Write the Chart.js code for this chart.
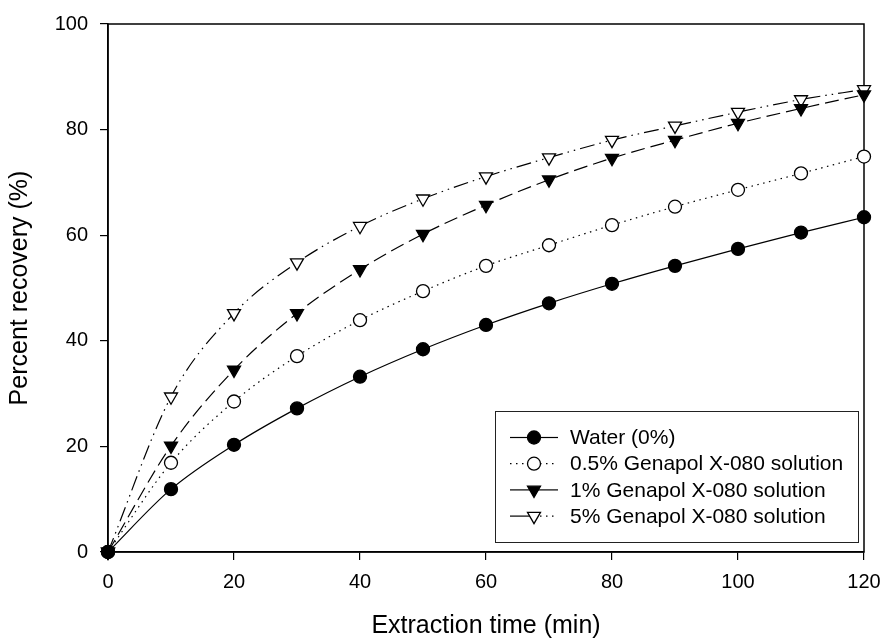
<!DOCTYPE html>
<html>
<head>
<meta charset="utf-8">
<script src="https://cdn.jsdelivr.net/npm/chart.js@4"></script>
<style>
  html, body { margin: 0; padding: 0; background: #fff; }
  #wrap { width: 883px; height: 639px; }
</style>
</head>
<body>
<div id="wrap"><canvas id="myChart" width="883" height="639"></canvas></div>
<script>
// extraction time (min)
const times = [0, 10, 20, 30, 40, 50, 60, 70, 80, 90, 100, 110, 120];
// percent recovery (%)
const water   = [0, 11.9, 20.3, 27.2, 33.2, 38.4, 43.0, 47.1, 50.8, 54.2, 57.4, 60.5, 63.4];
const gen05   = [0, 16.9, 28.5, 37.1, 43.9, 49.4, 54.2, 58.1, 61.9, 65.4, 68.6, 71.7, 74.9];
const gen1    = [0, 20.1, 34.5, 45.2, 53.5, 60.2, 65.7, 70.5, 74.6, 78.0, 81.2, 84.0, 86.6];
const gen5    = [0, 29.4, 45.2, 54.8, 61.7, 66.9, 71.1, 74.7, 78.0, 80.7, 83.3, 85.7, 87.6];
const seriesNames = ['Water (0%)', '0.5% Genapol X-080 solution', '1% Genapol X-080 solution', '5% Genapol X-080 solution'];
const xTicks = [0, 20, 40, 60, 80, 100, 120];
const yTicks = [0, 20, 40, 60, 80, 100];

const FONT = 'Liberation Sans, Arial, sans-serif';

function pts(vals) {
  return times.map((t, i) => ({ x: t, y: vals[i] }));
}

function ds(label, vals, opts) {
  return Object.assign({
    label: label,
    data: pts(vals),
    borderColor: '#000',
    borderWidth: 1.2,
    pointBorderColor: '#000',
    pointBorderWidth: 1.3,
    cubicInterpolationMode: 'monotone',
    clip: false
  }, opts);
}

const datasets = [
  ds(seriesNames[0], water, { pointStyle: 'circle', pointRadius: 6.5, pointBackgroundColor: '#000', borderDash: [] }),
  ds(seriesNames[1], gen05, { pointStyle: 'circle', pointRadius: 6.5, pointBackgroundColor: '#fff', borderDash: [1.5, 4.5] }),
  ds(seriesNames[2], gen1,  { pointStyle: 'triangle', pointRotation: 180, pointRadius: 7.5, pointBackgroundColor: '#000', borderDash: [14, 6] }),
  ds(seriesNames[3], gen5,  { pointStyle: 'triangle', pointRotation: 180, pointRadius: 7.5, pointBackgroundColor: '#fff', borderDash: [15, 5, 1.5, 5, 1.5, 5] })
];

// legend sample line styles: [left half dash, right half dash]
const legendDash = [
  [[], []],
  [[1.5, 4.5], [1.5, 4.5]],
  [[], []],
  [[], [1.5, 4.5]]
];

// frame (top and right borders) + custom legend box
const framePlugin = {
  id: 'frame',
  beforeDatasetsDraw(chart) {
    const a = chart.chartArea, c = chart.ctx;
    c.save();
    c.strokeStyle = '#000';
    c.lineWidth = 1.5;
    c.strokeRect(a.left, a.top, a.right - a.left, a.bottom - a.top);
    c.restore();
  },
  afterDraw(chart) {
    const c = chart.ctx;
    const box = { x: 495.5, y: 411.5, w: 363, h: 131 };
    c.save();
    c.fillStyle = '#fff';
    c.fillRect(box.x, box.y, box.w, box.h);
    c.strokeStyle = '#222';
    c.lineWidth = 1;
    c.strokeRect(box.x, box.y, box.w, box.h);
    c.font = '21px ' + FONT;
    c.textBaseline = 'middle';
    c.fillStyle = '#000';
    chart.data.datasets.forEach((d, i) => {
      const y = 437.5 + i * 26.2;
      c.save();
      c.strokeStyle = '#000';
      c.lineWidth = d.borderWidth;
      c.setLineDash(legendDash[i][0]);
      c.beginPath(); c.moveTo(510, y); c.lineTo(534, y); c.stroke();
      c.setLineDash(legendDash[i][1]);
      c.beginPath(); c.moveTo(534, y); c.lineTo(558, y); c.stroke();
      c.restore();
      c.save();
      c.fillStyle = d.pointBackgroundColor;
      c.strokeStyle = '#000';
      c.lineWidth = d.pointBorderWidth;
      Chart.helpers.drawPoint(c, { pointStyle: d.pointStyle, rotation: d.pointRotation || 0, radius: d.pointRadius, borderWidth: d.pointBorderWidth }, 534, y);
      c.restore();
      c.fillText(d.label, 570, y + 1);
    });
    c.restore();
  }
};

const ctx = document.getElementById('myChart').getContext('2d');
const chart = new Chart(ctx, {
  type: 'line',
  data: { datasets: datasets },
  options: {
    responsive: false,
    animation: false,
    layout: { padding: { left: 0, right: 19, top: 24, bottom: 0 } },
    plugins: { legend: { display: false }, tooltip: { enabled: false } },
    scales: {
      x: {
        type: 'linear',
        min: 0, max: 120,
        afterFit(s) { s.height = 87; s.paddingLeft = 0; s.paddingRight = 0; },
        afterBuildTicks(s) { s.ticks = xTicks.map(v => ({ value: v })); },
        grid: { drawOnChartArea: false, drawTicks: true, tickLength: 8, color: '#000', lineWidth: 1.2 },
        border: { display: true, color: '#000', width: 1.5 },
        ticks: { color: '#000', font: { family: FONT, size: 20 }, padding: 10, maxRotation: 0 },
        title: { display: true, text: 'Extraction time (min)', color: '#000', font: { family: FONT, size: 25, lineHeight: 1.0 }, padding: { top: 0, bottom: 0 } }
      },
      y: {
        min: 0, max: 100,
        afterFit(s) { s.width = 108; s.paddingTop = 0; s.paddingBottom = 0; },
        afterBuildTicks(s) { s.ticks = yTicks.map(v => ({ value: v })); },
        grid: { drawOnChartArea: false, drawTicks: true, tickLength: 8, color: '#000', lineWidth: 1.2 },
        border: { display: true, color: '#000', width: 1.5 },
        ticks: { color: '#000', font: { family: FONT, size: 20 }, padding: 12 },
        title: { display: true, text: 'Percent recovery (%)', color: '#000', font: { family: FONT, size: 25, lineHeight: 1.0 }, padding: { top: 8, bottom: 0 } }
      }
    }
  },
  plugins: [framePlugin]
});
</script>
</body>
</html>
